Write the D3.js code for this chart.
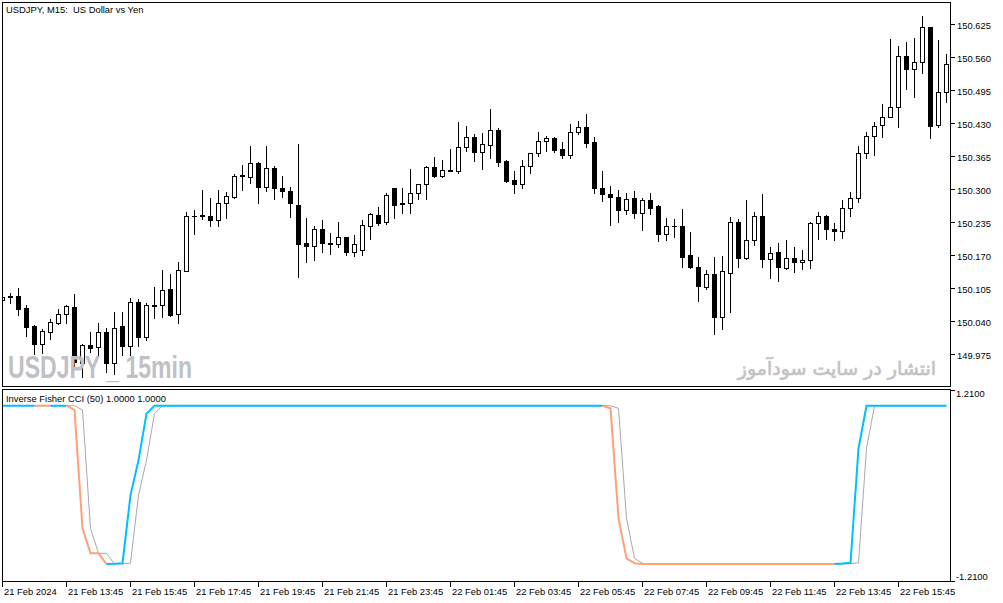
<!DOCTYPE html>
<html>
<head>
<meta charset="utf-8">
<script src="https://cdn.jsdelivr.net/npm/d3@7"></script>
<style>
  body { margin: 0; background: #fff; }
  text { font-family: "Liberation Sans", Arial, sans-serif; font-size: 9.4px; fill: #000; white-space: pre; }
</style>
</head>
<body>
<div id="vis"></div>
<script>
// USDJPY M15 bars, 21 Feb 11:45 .. 22 Feb 17:15
const openP = [
  150.081, 150.089, 150.090, 150.066, 150.030, 149.995, 150.019, 150.036, 150.054, 150.068,
  149.957, 149.994, 149.990, 150.019, 149.957, 150.030, 149.992, 150.078, 150.009, 150.071,
  150.072, 150.104, 150.054, 150.140, 150.248, 150.248, 150.248, 150.240, 150.273, 150.284,
  150.327, 150.325, 150.352, 150.304, 150.342, 150.303, 150.297, 150.269, 150.195, 150.189,
  150.222, 150.194, 150.192, 150.206, 150.177, 150.180, 150.228, 150.250, 150.235, 150.302,
  150.272, 150.273, 150.292, 150.310, 150.344, 150.327, 150.337, 150.336, 150.383, 150.403,
  150.374, 150.387, 150.417, 150.355, 150.319, 150.310, 150.345, 150.371, 150.395, 150.401,
  150.379, 150.368, 150.413, 150.423, 150.393, 150.303, 150.291, 150.285, 150.260, 150.283,
  150.254, 150.279, 150.267, 150.211, 150.228, 150.228, 150.171, 150.147, 150.107, 150.134,
  150.049, 150.135, 150.236, 150.164, 150.201, 150.248, 150.162, 150.176, 150.144, 150.164,
  150.156, 150.160, 150.234, 150.248, 150.222, 150.217, 150.263, 150.283, 150.372, 150.405,
  150.426, 150.443, 150.462, 150.563, 150.537, 150.551, 150.619, 150.426, 150.491
];
const highP = [
  150.092, 150.096, 150.105, 150.072, 150.033, 150.024, 150.045, 150.065, 150.072, 150.094,
  149.995, 150.018, 150.037, 150.027, 150.059, 150.058, 150.086, 150.084, 150.077, 150.107,
  150.142, 150.134, 150.157, 150.255, 150.259, 150.298, 150.283, 150.298, 150.295, 150.331,
  150.347, 150.386, 150.354, 150.386, 150.345, 150.327, 150.304, 150.389, 150.244, 150.227,
  150.240, 150.213, 150.236, 150.207, 150.210, 150.240, 150.253, 150.265, 150.292, 150.303,
  150.302, 150.339, 150.311, 150.345, 150.364, 150.357, 150.380, 150.433, 150.425, 150.409,
  150.411, 150.459, 150.421, 150.358, 150.337, 150.357, 150.371, 150.413, 150.405, 150.403,
  150.393, 150.429, 150.435, 150.449, 150.403, 150.337, 150.306, 150.298, 150.292, 150.296,
  150.283, 150.293, 150.269, 150.244, 150.242, 150.261, 150.216, 150.167, 150.142, 150.167,
  150.169, 150.246, 150.241, 150.279, 150.255, 150.291, 150.186, 150.194, 150.201, 150.186,
  150.180, 150.236, 150.255, 150.250, 150.234, 150.279, 150.294, 150.386, 150.412, 150.432,
  150.468, 150.596, 150.582, 150.590, 150.598, 150.642, 150.619, 150.594, 150.567
];
const lowP = [
  150.078, 150.076, 150.052, 150.012, 149.976, 149.978, 150.006, 150.035, 150.037, 149.948,
  149.931, 149.980, 149.969, 149.941, 149.936, 149.974, 149.974, 149.992, 150.004, 150.046,
  150.049, 150.051, 150.037, 150.139, 150.212, 150.242, 150.227, 150.228, 150.244, 150.283,
  150.298, 150.313, 150.273, 150.296, 150.281, 150.285, 150.246, 150.127, 150.157, 150.161,
  150.176, 150.172, 150.187, 150.171, 150.169, 150.171, 150.203, 150.229, 150.231, 150.243,
  150.253, 150.254, 150.280, 150.280, 150.325, 150.325, 150.336, 150.332, 150.376, 150.355,
  150.339, 150.362, 150.345, 150.315, 150.292, 150.302, 150.333, 150.366, 150.376, 150.374,
  150.362, 150.362, 150.409, 150.384, 150.292, 150.276, 150.229, 150.235, 150.252, 150.243,
  150.219, 150.252, 150.199, 150.201, 150.206, 150.146, 150.144, 150.080, 150.103, 150.014,
  150.024, 150.058, 150.147, 150.163, 150.191, 150.146, 150.125, 150.119, 150.143, 150.137,
  150.143, 150.144, 150.203, 150.203, 150.201, 150.205, 150.247, 150.275, 150.361, 150.368,
  150.404, 150.442, 150.423, 150.498, 150.481, 150.529, 150.401, 150.422, 150.471
];
const closeP = [
  150.088, 150.087, 150.065, 150.028, 149.995, 150.020, 150.038, 150.054, 150.070, 149.959,
  149.994, 149.988, 150.019, 149.957, 150.027, 149.992, 150.078, 150.009, 150.072, 150.072,
  150.102, 150.052, 150.141, 150.248, 150.247, 150.249, 150.240, 150.273, 150.286, 150.327,
  150.328, 150.352, 150.304, 150.342, 150.302, 150.296, 150.273, 150.192, 150.189, 150.222,
  150.194, 150.193, 150.206, 150.177, 150.192, 150.230, 150.251, 150.233, 150.288, 150.270,
  150.273, 150.292, 150.310, 150.344, 150.327, 150.338, 150.338, 150.383, 150.403, 150.374,
  150.389, 150.417, 150.353, 150.317, 150.310, 150.346, 150.371, 150.395, 150.401, 150.378,
  150.368, 150.413, 150.423, 150.392, 150.302, 150.290, 150.284, 150.260, 150.280, 150.254,
  150.279, 150.264, 150.211, 150.228, 150.227, 150.167, 150.147, 150.109, 150.133, 150.049,
  150.139, 150.236, 150.165, 150.201, 150.248, 150.162, 150.174, 150.146, 150.164, 150.156,
  150.160, 150.234, 150.248, 150.221, 150.217, 150.263, 150.283, 150.371, 150.405, 150.425,
  150.442, 150.462, 150.563, 150.537, 150.551, 150.619, 150.424, 150.491, 150.547
];

// Inverse Fisher CCI (50): main line and its signal
const fisher = [
  1, 1, 1, 1, 1, 0.999, 0.998, 0.999, 1, 0.946,
  -0.55, -0.865, -0.865, -1, -0.998, -0.99, -0.13, 0.31, 0.9, 1,
  1, 1, 1, 1, 1, 1, 1, 1, 1, 1,
  1, 1, 1, 1, 1, 1, 1, 1, 1, 1,
  1, 1, 1, 1, 1, 1, 1, 1, 1, 1,
  1, 1, 1, 1, 1, 1, 1, 1, 1, 1,
  1, 1, 1, 1, 1, 1, 1, 1, 1, 1,
  1, 1, 1, 1, 1, 1, 0.967, -0.42, -0.93, -0.99,
  -1, -1, -1, -1, -1, -1, -1, -1, -1, -1,
  -1, -1, -1, -1, -1, -1, -1, -1, -1, -1,
  -1, -1, -1, -1, -1, -0.995, -0.985, 0.46, 1, 1,
  1, 1, 1, 1, 1, 1, 1, 1, 1
];
const signal = [
  1, 1, 1, 1, 1, 1, 0.999, 0.998, 0.999, 1,
  0.946, -0.55, -0.865, -0.865, -1, -0.998, -0.99, -0.13, 0.31, 0.9,
  1, 1, 1, 1, 1, 1, 1, 1, 1, 1,
  1, 1, 1, 1, 1, 1, 1, 1, 1, 1,
  1, 1, 1, 1, 1, 1, 1, 1, 1, 1,
  1, 1, 1, 1, 1, 1, 1, 1, 1, 1,
  1, 1, 1, 1, 1, 1, 1, 1, 1, 1,
  1, 1, 1, 1, 1, 1, 1, 0.967, -0.42, -0.93,
  -0.99, -1, -1, -1, -1, -1, -1, -1, -1, -1,
  -1, -1, -1, -1, -1, -1, -1, -1, -1, -1,
  -1, -1, -1, -1, -1, -1, -0.995, -0.985, 0.46, 1,
  1, 1, 1, 1, 1, 1, 1, 1, 1
];

const priceTicks = [150.625, 150.560, 150.495, 150.430, 150.365, 150.300, 150.235, 150.170, 150.105, 150.040, 149.975];
const timeTickBars = [0, 8, 16, 24, 32, 40, 48, 56, 64, 72, 80, 88, 96, 104, 112];
const timeTickLabels = ['21 Feb 2024', '21 Feb 13:45', '21 Feb 15:45', '21 Feb 17:45', '21 Feb 19:45',
  '21 Feb 21:45', '21 Feb 23:45', '22 Feb 01:45', '22 Feb 03:45', '22 Feb 05:45', '22 Feb 07:45',
  '22 Feb 09:45', '22 Feb 11:45', '22 Feb 13:45', '22 Feb 15:45'];
const fisherTicks = [1.21, -1.21];

const main = { left: 2, right: 950, top: 2, bottom: 386 };
const sub = { top: 389, bottom: 581 };

const svg = d3.select('#vis')
  .append('svg')
  .attr('width', 1003)
  .attr('height', 603);

svg.append('rect').attr('width', 1003).attr('height', 603).attr('fill', '#fff');

const x = d3.scaleLinear().domain([0, openP.length - 1]).range([2.5, 2.5 + 8 * (openP.length - 1)]);
const px = k => Math.floor(x(k)) + 0.5;
const y = d3.scaleLinear().domain([149.975, 150.625]).range([354.3, 24.3]);
const yi = d3.scaleLinear().domain([-1, 1]).range([564, 405.7]);

svg.append('clipPath').attr('id', 'clipMain')
  .append('rect').attr('x', main.left + 1).attr('y', main.top + 1)
  .attr('width', main.right - main.left - 1).attr('height', main.bottom - main.top - 1);
svg.append('clipPath').attr('id', 'clipSub')
  .append('rect').attr('x', main.left + 1).attr('y', sub.top + 1)
  .attr('width', main.right - main.left - 1).attr('height', sub.bottom - sub.top - 1);

// candles
const bars = d3.range(openP.length).map(k => ({
  k, o: openP[k], h: highP[k], l: lowP[k], c: closeP[k]
}));

const cg = svg.append('g').attr('clip-path', 'url(#clipMain)').attr('shape-rendering', 'crispEdges');

cg.selectAll('.wick')
  .data(bars)
  .enter()
  .append('line')
  .attr('class', 'wick')
  .attr('x1', d => px(d.k)).attr('x2', d => px(d.k))
  .attr('y1', d => Math.round(y(d.h)))
  .attr('y2', d => Math.round(y(d.l)) + 1)
  .attr('stroke', '#000');

cg.selectAll('.body')
  .data(bars)
  .enter()
  .append('g')
  .attr('class', 'body')
  .each(function (d) {
    const top = Math.round(y(Math.max(d.o, d.c)));
    const bot = Math.round(y(Math.min(d.o, d.c)));
    const g = d3.select(this);
    if (bot - top < 1) {
      g.append('line')
        .attr('x1', px(d.k) - 2.5).attr('x2', px(d.k) + 2.5)
        .attr('y1', top + 0.5).attr('y2', top + 0.5)
        .attr('stroke', '#000');
    } else {
      g.append('rect')
        .attr('x', px(d.k) - 2).attr('y', top + 0.5)
        .attr('width', 4).attr('height', bot - top)
        .attr('fill', d.c >= d.o ? '#fff' : '#000')
        .attr('stroke', '#000');
    }
  });

// watermarks sit above the candles
svg.append('text')
  .attr('x', 8).attr('y', 378)
  .attr('textLength', 184).attr('lengthAdjust', 'spacingAndGlyphs')
  .style('font-size', '32px').style('font-weight', 'bold').style('fill', '#c0c1c6')
  .text('USDJPY _ 15min');
svg.append('text')
  .attr('x', 936).attr('y', 375)
  .attr('text-anchor', 'end')
  .style('font-family', '"DejaVu Sans", sans-serif')
  .style('font-size', '19px').style('fill', '#c4c4c4')
  .style('stroke', '#c4c4c4').style('stroke-width', '0.7px')
  .text('انتشار در سایت سودآموز');

// indicator lines
const ig = svg.append('g').attr('clip-path', 'url(#clipSub)');

const line = d3.line().x(d => x(d[0])).y(d => yi(d[1]));

ig.append('path')
  .attr('d', line(signal.map((v, k) => [k, v])))
  .attr('fill', 'none')
  .attr('stroke', '#a9a9a9')
  .attr('stroke-width', 1);

// colour runs: falling = salmon, rising = sky blue, flat keeps the previous colour
let col = 'up';
const runs = [];
for (let k = 1; k < fisher.length; k++) {
  if (fisher[k] > fisher[k - 1]) col = 'up';
  else if (fisher[k] < fisher[k - 1]) col = 'down';
  const last = runs[runs.length - 1];
  if (last && last.col === col) last.pts.push([k, fisher[k]]);
  else runs.push({ col, pts: [[k - 1, fisher[k - 1]], [k, fisher[k]]] });
}
ig.selectAll('.fisher')
  .data(runs)
  .enter()
  .append('path')
  .attr('class', 'fisher')
  .attr('d', d => line(d.pts))
  .attr('fill', 'none')
  .attr('stroke', d => d.col === 'up' ? '#00bfff' : '#ffa07a')
  .attr('stroke-width', 2);

// frames
const fr = svg.append('g').attr('shape-rendering', 'crispEdges').attr('fill', 'none').attr('stroke', '#000');
fr.append('rect').attr('x', main.left + 0.5).attr('y', main.top + 0.5)
  .attr('width', main.right - main.left).attr('height', main.bottom - main.top);
fr.append('rect').attr('x', main.left + 0.5).attr('y', sub.top + 0.5)
  .attr('width', main.right - main.left).attr('height', sub.bottom - sub.top);

// price axis
const pa = svg.append('g');
pa.selectAll('line')
  .data(priceTicks)
  .enter()
  .append('line')
  .attr('shape-rendering', 'crispEdges')
  .attr('x1', main.right + 1).attr('x2', main.right + 5)
  .attr('y1', d => Math.round(y(d)) + 0.5).attr('y2', d => Math.round(y(d)) + 0.5)
  .attr('stroke', '#000');
pa.selectAll('text')
  .data(priceTicks)
  .enter()
  .append('text')
  .attr('x', main.right + 7)
  .attr('y', d => y(d) + 4.4)
  .text(d => d3.format('.3f')(d));

// indicator axis
const fa = svg.append('g');
fa.selectAll('line')
  .data(fisherTicks)
  .enter()
  .append('line')
  .attr('shape-rendering', 'crispEdges')
  .attr('x1', main.right + 1).attr('x2', main.right + 5)
  .attr('y1', d => Math.round(Math.max(sub.top + 1, Math.min(sub.bottom, yi(d)))) + 0.5)
  .attr('y2', d => Math.round(Math.max(sub.top + 1, Math.min(sub.bottom, yi(d)))) + 0.5)
  .attr('stroke', '#000');
fa.selectAll('text')
  .data(fisherTicks)
  .enter()
  .append('text')
  .attr('x', main.right + 6)
  .attr('y', d => d > 0 ? sub.top + 8.3 : sub.bottom - 1)
  .text(d => d3.format('.4f')(d).replace('−', '-'));

// time axis
const ta = svg.append('g');
ta.selectAll('line')
  .data(timeTickBars)
  .enter()
  .append('line')
  .attr('shape-rendering', 'crispEdges')
  .attr('x1', d => px(d)).attr('x2', d => px(d))
  .attr('y1', sub.bottom + 1).attr('y2', sub.bottom + 6)
  .attr('stroke', '#000');
ta.selectAll('text')
  .data(timeTickBars)
  .enter()
  .append('text')
  .attr('x', d => px(d) + 1.5)
  .attr('y', 595)
  .text((d, i) => timeTickLabels[i]);

// captions
svg.append('text').attr('x', 6).attr('y', 13.3).text('USDJPY, M15:  US Dollar vs Yen');
svg.append('text').attr('x', 6).attr('y', 402.3)
  .text('Inverse Fisher CCI (50) ' + d3.format('.4f')(fisher[fisher.length - 1]) + ' ' + d3.format('.4f')(signal[signal.length - 1]));
</script>
</body>
</html>
